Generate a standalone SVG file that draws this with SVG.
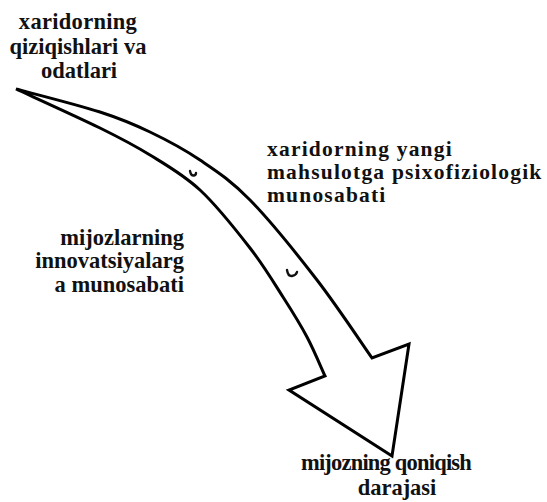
<svg xmlns="http://www.w3.org/2000/svg" width="547" height="502" viewBox="0 0 547 502">
<style>
.lbl{font-family:"Liberation Serif","Times New Roman",serif;font-weight:bold;font-size:22.5px;fill:#111}
.wide{font-size:21.5px;letter-spacing:1.2px}
.arrow{fill:#fff;stroke:#000;stroke-width:3;stroke-linejoin:miter;stroke-miterlimit:6}
.mark{fill:none;stroke:#111;stroke-width:2.4;stroke-linecap:round}
</style>
<rect width="547" height="502" fill="#fff"/>
<g id="connectors">
<path id="big-arrow" class="arrow" d="M16 89 C30 92.8 77.7 104.8 100 112 C122.3 119.2 133.3 124 150 132 C166.7 140 183.3 148.7 200 160 C216.7 171.3 230.5 180 250 200 C269.5 220 296.7 253.7 317 280 C337.3 306.3 362.8 345 372 358 L409 344 L392 456 L289 390 L325 376 C322 369.5 314 350.2 307 337 C300 323.8 292.5 311.8 283 297 C273.5 282.2 263.8 265.8 250 248 C236.2 230.2 216.7 205.5 200 190 C183.3 174.5 166.7 165.3 150 155 C133.3 144.7 122.3 139 100 128 C77.7 117 30 95.5 16 89 Z"/>
<path class="mark" d="M190 171 Q191 176 194 175.5 Q196 175 196 173"/>
<path class="mark" d="M287 270 Q288 276.5 292 276 Q296 275.5 297 272"/>
</g>
<g id="node-habits">
<text class="lbl" text-anchor="middle" x="78" y="29" letter-spacing="0.3">xaridorning</text>
<text class="lbl" text-anchor="middle" x="78" y="54">qiziqishlari va</text>
<text class="lbl" text-anchor="middle" x="79" y="78">odatlari</text>
</g>
<g id="node-psycho">
<text class="lbl wide" x="267" y="156">xaridorning yangi</text>
<text class="lbl wide" x="267" y="179">mahsulotga psixofiziologik</text>
<text class="lbl wide" x="267" y="202">munosabati</text>
</g>
<g id="node-innovation">
<text class="lbl" text-anchor="end" x="184" y="245">mijozlarning</text>
<text class="lbl" text-anchor="end" x="184" y="268">innovatsiyalarg</text>
<text class="lbl" text-anchor="end" x="184" y="292">a munosabati</text>
</g>
<g id="node-satisfaction">
<text class="lbl" text-anchor="middle" x="386" y="470" letter-spacing="-0.8">mijozning qoniqish</text>
<text class="lbl" text-anchor="middle" x="397" y="495">darajasi</text>
</g>
</svg>
